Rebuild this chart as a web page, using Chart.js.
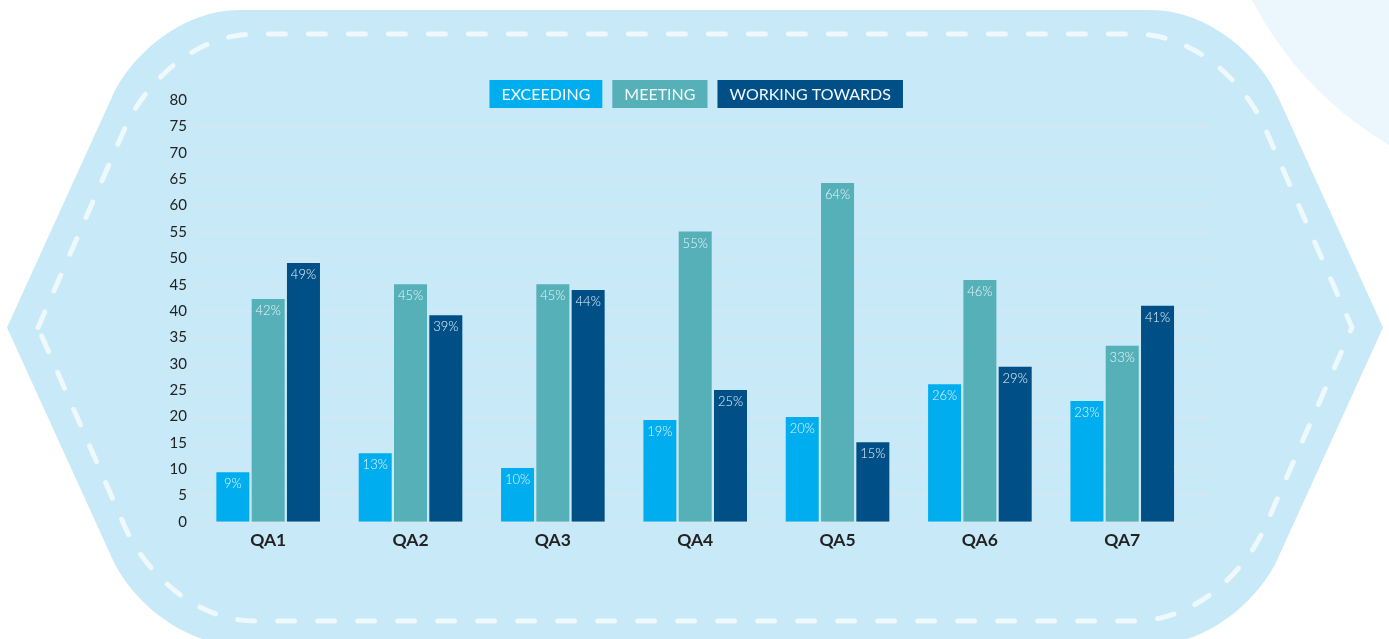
<!DOCTYPE html>
<html>
<head>
<meta charset="utf-8">
<script src="https://cdn.jsdelivr.net/npm/chart.js@4.4.1/dist/chart.umd.min.js"></script>
<style>
    body { margin: 0; background: #fff; }
    #wrap { position: relative; width: 1389px; height: 639px; }
</style>
</head>
<body>
<div id="wrap"><canvas id="bar-chart"></canvas></div>
<script>
let categories = ["QA1", "QA2", "QA3", "QA4", "QA5", "QA6", "QA7"];
let seriesNames = ["EXCEEDING", "MEETING", "WORKING TOWARDS"];
let exceeding = [9.4, 13.0, 10.2, 19.3, 19.9, 26.1, 22.9];
let meeting = [42.3, 45.1, 45.1, 55.1, 64.3, 45.9, 33.4];
let workingTowards = [49.1, 39.2, 44.0, 25.0, 15.1, 29.4, 41.0];
let yTicks = [0, 5, 10, 15, 20, 25, 30, 35, 40, 45, 50, 55, 60, 65, 70, 75, 80];

let colors = ["#00aeef", "#55b1b7", "#004f86"];
let fontName = "Lato, 'Open Sans', sans-serif";

// the rounded hexagon outline, mirrored left/right and top/bottom
function hexPath(c, pts) {
    let [tip, a, b, d, e] = pts;
    let mx = x => 1390 - x;
    let my = y => 655 - y;
    c.beginPath();
    c.moveTo(tip[0], tip[1]);
    c.lineTo(a[0], a[1]);
    c.bezierCurveTo(b[0], b[1], d[0], d[1], e[0], e[1]);
    c.lineTo(mx(e[0]), e[1]);
    c.bezierCurveTo(mx(d[0]), d[1], mx(b[0]), b[1], mx(a[0]), a[1]);
    c.lineTo(mx(tip[0]), tip[1]);
    c.lineTo(mx(a[0]), my(a[1]));
    c.bezierCurveTo(mx(b[0]), my(b[1]), mx(d[0]), my(d[1]), mx(e[0]), my(e[1]));
    c.lineTo(e[0], my(e[1]));
    c.bezierCurveTo(d[0], my(d[1]), b[0], my(b[1]), a[0], my(a[1]));
    c.closePath();
}

let backdrop = {
    id: "backdrop",
    beforeDraw(chart) {
        let c = chart.ctx;
        c.save();
        c.fillStyle = "#fff";
        c.fillRect(0, 0, chart.width, chart.height);

        c.fillStyle = "#ebf6fd";
        c.beginPath();
        c.arc(1572, -165, 360, 0, Math.PI * 2);
        c.fill();

        c.fillStyle = "#c7e9f8";
        hexPath(c, [[7, 327.5], [112, 97], [130, 57], [180, 10], [240, 10]]);
        c.fill();

        c.strokeStyle = "#eef8fd";
        c.lineWidth = 5;
        c.lineCap = "round";
        c.lineJoin = "round";
        c.setLineDash([17, 23]);
        hexPath(c, [[38, 327.5], [125, 128], [145, 83], [195, 34], [255, 34]]);
        c.stroke();
        c.restore();
    },
    beforeDatasetsDraw(chart) {
        let c = chart.ctx;
        let y = chart.scales.y;
        c.save();
        c.strokeStyle = "#dbe5eb";
        c.lineWidth = 1;
        y.ticks.forEach(t => {
            if (t.value >= 80) return;
            let py = Math.round(y.getPixelForValue(t.value)) + 0.5;
            c.beginPath();
            c.moveTo(193, py);
            c.lineTo(1212, py);
            c.stroke();
        });
        c.restore();
    },
    afterDatasetsDraw(chart) {
        let c = chart.ctx;
        c.save();
        c.font = "300 13px " + fontName;
        c.fillStyle = "#e8f5fc";
        c.textAlign = "center";
        c.textBaseline = "middle";
        chart.data.datasets.forEach((ds, i) => {
            chart.getDatasetMeta(i).data.forEach((bar, j) => {
                c.fillText(Math.round(ds.data[j]) + "%", bar.x, bar.y + 12);
            });
        });
        c.restore();
    },
    afterDraw(chart) {
        // legend boxes with the name inside
        let c = chart.ctx;
        c.save();
        c.font = "16px " + fontName;
        let pad = 12, gap = 10, h = 28, top = 80;
        let widths = chart.data.datasets.map(ds => c.measureText(ds.label).width + pad * 2);
        let total = widths.reduce((a, b) => a + b, 0) + gap * (widths.length - 1);
        let area = chart.chartArea;
        let x = (area.left + area.right) / 2 - total / 2 + 1;
        c.textBaseline = "middle";
        c.textAlign = "center";
        chart.data.datasets.forEach((ds, i) => {
            c.fillStyle = ds.backgroundColor;
            c.fillRect(x, top, widths[i], h);
            c.fillStyle = "#f4fbff";
            c.fillText(ds.label, x + widths[i] / 2, top + h / 2 + 1);
            x += widths[i] + gap;
        });
        c.restore();
    }
};

let barChartEl = document.getElementById("bar-chart");

let config = {
    type: "bar",
    data: {
        labels: categories,
        datasets: [
            { label: seriesNames[0], data: exceeding, backgroundColor: colors[0] },
            { label: seriesNames[1], data: meeting, backgroundColor: colors[1] },
            { label: seriesNames[2], data: workingTowards, backgroundColor: colors[2] }
        ]
    },
    options: {
        responsive: true,
        maintainAspectRatio: false,
        animation: false,
        datasets: {
            bar: {
                categoryPercentage: 0.744,
                barPercentage: 0.935,
                borderWidth: 0
            }
        },
        layout: {
            padding: { left: 0, right: 195.6, top: 100.3, bottom: 87.3 }
        },
        plugins: {
            legend: { display: false },
            tooltip: { enabled: false }
        },
        scales: {
            x: {
                grid: { display: false },
                border: { display: false },
                ticks: {
                    color: "#222",
                    padding: 0,
                    font: { family: fontName, size: 17.5, weight: "bold" }
                },
                afterFit(scale) { scale.height = 30; }
            },
            y: {
                min: 0,
                max: 80,
                grid: { display: false, drawTicks: false },
                border: { display: false },
                afterBuildTicks(scale) {
                    scale.ticks = yTicks.map(v => ({ value: v }));
                },
                ticks: {
                    color: "#222",
                    padding: 10,
                    font: { family: fontName, size: 15 }
                },
                afterFit(scale) { scale.width = 197; }
            }
        }
    },
    plugins: [backdrop]
};

let barChart = new Chart(barChartEl, config);
</script>
</body>
</html>
